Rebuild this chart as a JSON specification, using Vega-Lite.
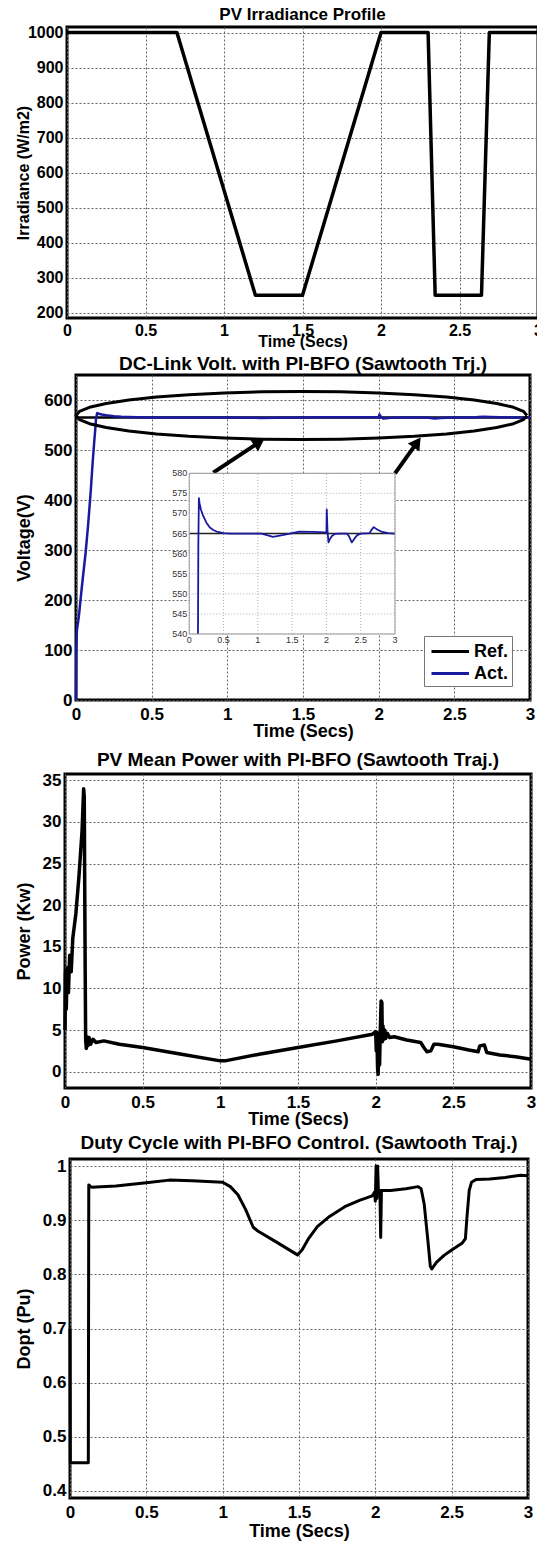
{
  "$schema": "https://vega.github.io/schema/vega-lite/v6.json",
  "background": "white",
  "padding": {"left": 6, "top": 4, "right": 0, "bottom": 0},
  "config": {
    "font": "Liberation Sans",
    "view": {"stroke": "black", "strokeWidth": 3},
    "axis": {"labelFont": "Liberation Sans", "labelFontWeight": "bold", "labelColor": "#000", "titleFont": "Liberation Sans", "titleFontWeight": "bold", "titleColor": "#000", "domain": false, "ticks": false, "tickSize": 0, "grid": true, "gridColor": "#666", "gridDash": [2, 2], "gridWidth": 1, "gridOpacity": 1, "labelFlush": false, "labelOverlap": false, "labelBound": false},
    "title": {"font": "Liberation Sans", "fontWeight": "bold", "color": "#000", "fontSize": 19},
    "line": {"strokeJoin": "round"}
  },
  "datasets": {
    "irr": [{"t":0,"g":1000},{"t":0.7,"g":1000},{"t":1.2,"g":250},{"t":1.5,"g":250},{"t":2.0,"g":1000},{"t":2.3,"g":1000},{"t":2.345,"g":250},{"t":2.64,"g":250},{"t":2.69,"g":1000},{"t":3,"g":1000}],
    "vref": [{"t":0,"v":565,"s":"Ref."},{"t":3,"v":565,"s":"Ref."}],
    "vact": [{"t":0,"v":0,"s":"Act."},{"t":0.002,"v":100,"s":"Act."},{"t":0.006,"v":140,"s":"Act."},{"t":0.018,"v":165,"s":"Act."},{"t":0.04,"v":230,"s":"Act."},{"t":0.063,"v":293,"s":"Act."},{"t":0.08,"v":350,"s":"Act."},{"t":0.098,"v":420,"s":"Act."},{"t":0.11,"v":475,"s":"Act."},{"t":0.12,"v":515,"s":"Act."},{"t":0.127,"v":540,"s":"Act."},{"t":0.132,"v":562,"s":"Act."},{"t":0.14,"v":573.8,"s":"Act."},{"t":0.15,"v":572.5,"s":"Act."},{"t":0.17,"v":571,"s":"Act."},{"t":0.2,"v":569.5,"s":"Act."},{"t":0.25,"v":567.7,"s":"Act."},{"t":0.3,"v":566.5,"s":"Act."},{"t":0.35,"v":565.9,"s":"Act."},{"t":0.4,"v":565.5,"s":"Act."},{"t":0.5,"v":565.1,"s":"Act."},{"t":0.6,"v":565,"s":"Act."},{"t":1.05,"v":565,"s":"Act."},{"t":1.12,"v":564.7,"s":"Act."},{"t":1.22,"v":564.2,"s":"Act."},{"t":1.32,"v":564.5,"s":"Act."},{"t":1.45,"v":564.9,"s":"Act."},{"t":1.52,"v":565.2,"s":"Act."},{"t":1.6,"v":565.5,"s":"Act."},{"t":1.8,"v":565.4,"s":"Act."},{"t":1.99,"v":565.3,"s":"Act."},{"t":2.0,"v":565.2,"s":"Act."},{"t":2.005,"v":571,"s":"Act."},{"t":2.015,"v":566,"s":"Act."},{"t":2.03,"v":562.8,"s":"Act."},{"t":2.05,"v":563.6,"s":"Act."},{"t":2.08,"v":564.4,"s":"Act."},{"t":2.12,"v":564.9,"s":"Act."},{"t":2.2,"v":565,"s":"Act."},{"t":2.3,"v":565,"s":"Act."},{"t":2.33,"v":564.3,"s":"Act."},{"t":2.37,"v":562.8,"s":"Act."},{"t":2.41,"v":563.8,"s":"Act."},{"t":2.45,"v":564.6,"s":"Act."},{"t":2.5,"v":565,"s":"Act."},{"t":2.63,"v":565.1,"s":"Act."},{"t":2.66,"v":566,"s":"Act."},{"t":2.69,"v":566.6,"s":"Act."},{"t":2.74,"v":566,"s":"Act."},{"t":2.8,"v":565.5,"s":"Act."},{"t":2.9,"v":565.1,"s":"Act."},{"t":3.0,"v":565,"s":"Act."}],
    "ell": [{"i":0,"x":2.98,"y":569},{"i":1,"x":2.957,"y":577.3},{"i":2,"x":2.891,"y":585.4},{"i":3,"x":2.78,"y":593},{"i":4,"x":2.631,"y":599.9},{"i":5,"x":2.448,"y":605.8},{"i":6,"x":2.235,"y":610.6},{"i":7,"x":2.0,"y":614.1},{"i":8,"x":1.749,"y":616.3},{"i":9,"x":1.49,"y":617},{"i":10,"x":1.231,"y":616.3},{"i":11,"x":0.98,"y":614.1},{"i":12,"x":0.745,"y":610.6},{"i":13,"x":0.532,"y":605.8},{"i":14,"x":0.349,"y":599.9},{"i":15,"x":0.2,"y":593},{"i":16,"x":0.089,"y":585.4},{"i":17,"x":0.023,"y":577.3},{"i":18,"x":0,"y":569},{"i":19,"x":0.023,"y":560.7},{"i":20,"x":0.089,"y":552.6},{"i":21,"x":0.2,"y":545},{"i":22,"x":0.349,"y":538.1},{"i":23,"x":0.532,"y":532.2},{"i":24,"x":0.745,"y":527.4},{"i":25,"x":0.98,"y":523.9},{"i":26,"x":1.231,"y":521.7},{"i":27,"x":1.49,"y":521},{"i":28,"x":1.749,"y":521.7},{"i":29,"x":2.0,"y":523.9},{"i":30,"x":2.235,"y":527.4},{"i":31,"x":2.448,"y":532.2},{"i":32,"x":2.631,"y":538.1},{"i":33,"x":2.78,"y":545},{"i":34,"x":2.891,"y":552.6},{"i":35,"x":2.957,"y":560.7},{"i":36,"x":2.98,"y":569}],
    "arr": [{"a":1,"x1":0.907,"y1":454.6,"hx":1.211,"hy":515.6},{"a":2,"x1":2.108,"y1":453.4,"hx":2.254,"hy":515.2}],
    "ixt": [{"t":0},{"t":0.5},{"t":1},{"t":1.5},{"t":2},{"t":2.5},{"t":3}],
    "iyt": [{"v":540},{"v":545},{"v":550},{"v":555},{"v":560},{"v":565},{"v":570},{"v":575},{"v":580}],
    "pw": [{"t":0,"p":5},{"t":0.003,"p":12},{"t":0.008,"p":7.5},{"t":0.015,"p":12.5},{"t":0.022,"p":9.5},{"t":0.03,"p":14},{"t":0.04,"p":12},{"t":0.05,"p":16},{"t":0.07,"p":19},{"t":0.09,"p":23.5},{"t":0.11,"p":29},{"t":0.12,"p":34},{"t":0.124,"p":33},{"t":0.127,"p":22},{"t":0.13,"p":12},{"t":0.133,"p":3.8},{"t":0.137,"p":2.8},{"t":0.142,"p":4.2},{"t":0.148,"p":3.1},{"t":0.155,"p":4.1},{"t":0.165,"p":3.3},{"t":0.18,"p":3.9},{"t":0.2,"p":3.5},{"t":0.25,"p":3.7},{"t":0.35,"p":3.3},{"t":0.5,"p":2.9},{"t":0.75,"p":2.1},{"t":1.0,"p":1.3},{"t":1.03,"p":1.3},{"t":1.25,"p":2.1},{"t":1.5,"p":2.9},{"t":1.75,"p":3.7},{"t":1.98,"p":4.5},{"t":2.0,"p":4.8},{"t":2.004,"p":2.5},{"t":2.008,"p":4.7},{"t":2.012,"p":0.5},{"t":2.016,"p":-0.3},{"t":2.02,"p":3.5},{"t":2.025,"p":0.8},{"t":2.03,"p":5},{"t":2.035,"p":8.5},{"t":2.04,"p":8.3},{"t":2.043,"p":3.6},{"t":2.047,"p":5.5},{"t":2.052,"p":3.9},{"t":2.058,"p":5},{"t":2.065,"p":4.0},{"t":2.075,"p":4.6},{"t":2.09,"p":4.1},{"t":2.12,"p":4.2},{"t":2.2,"p":3.8},{"t":2.29,"p":3.5},{"t":2.31,"p":2.9},{"t":2.33,"p":2.4},{"t":2.355,"p":2.5},{"t":2.375,"p":3.3},{"t":2.4,"p":3.3},{"t":2.5,"p":3.0},{"t":2.6,"p":2.6},{"t":2.66,"p":2.4},{"t":2.67,"p":3.1},{"t":2.7,"p":3.2},{"t":2.715,"p":2.3},{"t":2.8,"p":2.0},{"t":2.9,"p":1.8},{"t":3.0,"p":1.5}],
    "duty": [{"t":0,"d":0.7},{"t":0.002,"d":0.452},{"t":0.12,"d":0.452},{"t":0.123,"d":0.965},{"t":0.14,"d":0.961},{"t":0.3,"d":0.963},{"t":0.5,"d":0.969},{"t":0.65,"d":0.974},{"t":0.8,"d":0.973},{"t":1.0,"d":0.97},{"t":1.05,"d":0.962},{"t":1.1,"d":0.947},{"t":1.15,"d":0.92},{"t":1.2,"d":0.887},{"t":1.23,"d":0.88},{"t":1.35,"d":0.86},{"t":1.49,"d":0.836},{"t":1.52,"d":0.845},{"t":1.56,"d":0.865},{"t":1.62,"d":0.888},{"t":1.7,"d":0.907},{"t":1.8,"d":0.925},{"t":1.9,"d":0.937},{"t":1.98,"d":0.945},{"t":1.995,"d":0.952},{"t":2.0,"d":0.935},{"t":2.005,"d":1.0},{"t":2.01,"d":0.94},{"t":2.015,"d":1.0},{"t":2.02,"d":0.955},{"t":2.03,"d":0.955},{"t":2.035,"d":0.868},{"t":2.04,"d":0.955},{"t":2.1,"d":0.955},{"t":2.2,"d":0.958},{"t":2.28,"d":0.962},{"t":2.3,"d":0.958},{"t":2.32,"d":0.93},{"t":2.345,"d":0.86},{"t":2.36,"d":0.815},{"t":2.37,"d":0.81},{"t":2.4,"d":0.822},{"t":2.45,"d":0.835},{"t":2.5,"d":0.845},{"t":2.57,"d":0.858},{"t":2.59,"d":0.866},{"t":2.6,"d":0.905},{"t":2.615,"d":0.955},{"t":2.63,"d":0.97},{"t":2.66,"d":0.975},{"t":2.75,"d":0.976},{"t":2.85,"d":0.979},{"t":2.95,"d":0.983},{"t":3.0,"d":0.982}]
  },
  "spacing": 2,
  "resolve": {"legend": {"color": "independent"}},
  "vconcat": [
    {
      "spacing": 0,
      "hconcat": [
        {"width": 1.2, "height": 1, "view": {"stroke": null, "fill": "white"}, "data": {"values": [{}]}, "mark": {"type": "point", "opacity": 0}},
        {
          "width": 471, "height": 291,
          "title": {"text": "PV Irradiance Profile", "fontSize": 17, "offset": 1},
          "data": {"name": "irr"},
          "mark": {"type": "line", "color": "black", "strokeWidth": 3.5},
          "encoding": {
            "x": {"field": "t", "type": "quantitative", "scale": {"domain": [0, 3], "nice": false}, "axis": {"values": [0, 0.5, 1, 1.5, 2, 2.5, 3], "format": "~g", "labelFontSize": 16, "labelPadding": 4, "title": "Time (Secs)", "titleFontSize": 16, "titleY": 23, "titleBaseline": "middle"}},
            "y": {"field": "g", "type": "quantitative", "scale": {"domain": [185, 1016], "nice": false, "zero": false}, "axis": {"values": [200, 300, 400, 500, 600, 700, 800, 900, 1000], "format": "d", "labelFontSize": 16, "labelPadding": 4, "title": "Irradiance (W/m2)", "titleFontSize": 16, "titleX": -44, "titleBaseline": "middle"}}
          }
        }
      ]
    },
    {
      "spacing": 0,
      "resolve": {"legend": {"color": "independent"}},
      "hconcat": [
        {"width": 3.5, "height": 1, "view": {"stroke": null, "fill": "white"}, "data": {"values": [{}]}, "mark": {"type": "point", "opacity": 0}},
        {
          "width": 454, "height": 325,
          "title": {"text": "DC-Link Volt. with PI-BFO (Sawtooth Trj.)", "fontSize": 19, "offset": 1},
          "layer": [
            {
              "layer": [
                {
                  "data": {"name": "vref"},
                  "mark": {"type": "line", "strokeWidth": 2.5},
                  "encoding": {
                    "x": {"field": "t", "type": "quantitative", "scale": {"domain": [0, 3], "nice": false}, "axis": {"values": [0, 0.5, 1, 1.5, 2, 2.5, 3], "format": "~g", "labelFontSize": 17, "labelPadding": 6, "title": "Time (Secs)", "titleFontSize": 18, "titleY": 31.5, "titleBaseline": "middle"}},
                    "y": {"field": "v", "type": "quantitative", "scale": {"domain": [0, 650], "nice": false}, "axis": {"values": [0, 100, 200, 300, 400, 500, 600], "labelFontSize": 17, "labelPadding": 4, "title": "Voltage(V)", "titleFontSize": 18, "titleX": -51.5, "titleBaseline": "middle"}},
                    "color": {"field": "s", "type": "nominal", "scale": {"domain": ["Ref.", "Act."], "range": ["#000000", "#1a1aa0"]}, "legend": {"title": null, "orient": "none", "legendX": 348, "legendY": 261, "symbolType": "M-0.727,0H2.68", "symbolStrokeWidth": 3, "symbolSize": 484, "labelFont": "Liberation Sans", "labelFontWeight": "bold", "labelFontSize": 18, "labelColor": "#000", "fillColor": "white", "strokeColor": "#777", "padding": 3, "rowPadding": 0, "labelOffset": 22}}
                  }
                },
                {
                  "data": {"name": "vact"},
                  "mark": {"type": "line", "strokeWidth": 2.5},
                  "encoding": {
                    "x": {"field": "t", "type": "quantitative"},
                    "y": {"field": "v", "type": "quantitative"},
                    "color": {"field": "s", "type": "nominal"}
                  }
                },
                {
                  "data": {"name": "ell"},
                  "mark": {"type": "line", "color": "black", "strokeWidth": 3},
                  "encoding": {
                    "x": {"field": "x", "type": "quantitative"},
                    "y": {"field": "y", "type": "quantitative"},
                    "order": {"field": "i", "type": "quantitative"}
                  }
                },
                {
                  "data": {"name": "arr"},
                  "mark": {"type": "rule", "color": "black", "strokeWidth": 4},
                  "encoding": {
                    "x": {"field": "x1", "type": "quantitative"},
                    "y": {"field": "y1", "type": "quantitative"},
                    "x2": {"field": "hx"},
                    "y2": {"field": "hy"}
                  }
                },
                {
                  "data": {"name": "arr"},
                  "transform": [{"filter": "datum.a == 1"}],
                  "mark": {"type": "point", "shape": "triangle-up", "filled": true, "color": "black", "opacity": 1, "size": 200, "angle": 56.6},
                  "encoding": {
                    "x": {"field": "hx", "type": "quantitative"},
                    "y": {"field": "hy", "type": "quantitative"}
                  }
                },
                {
                  "data": {"name": "arr"},
                  "transform": [{"filter": "datum.a == 2"}],
                  "mark": {"type": "point", "shape": "triangle-up", "filled": true, "color": "black", "opacity": 1, "size": 200, "angle": 34.9},
                  "encoding": {
                    "x": {"field": "hx", "type": "quantitative"},
                    "y": {"field": "hy", "type": "quantitative"}
                  }
                }
              ]
            },
            {
              "layer": [
                {
                  "data": {"values": [{}]},
                  "mark": {"type": "rect", "fill": "white"},
                  "encoding": {
                    "x": {"datum": 0, "type": "quantitative", "scale": {"domain": [-1.652, 4.969], "nice": false, "zero": false}, "axis": null},
                    "x2": {"datum": 3},
                    "y": {"datum": 540, "type": "quantitative", "scale": {"domain": [523.57, 604.47], "nice": false, "zero": false}, "axis": null},
                    "y2": {"datum": 580}
                  }
                },
                {
                  "data": {"name": "ixt"},
                  "mark": {"type": "rule", "color": "#b0b0b0", "strokeDash": [1, 2], "strokeWidth": 1},
                  "encoding": {
                    "x": {"field": "t", "type": "quantitative"},
                    "y": {"datum": 540, "type": "quantitative"},
                    "y2": {"datum": 580}
                  }
                },
                {
                  "data": {"name": "iyt"},
                  "mark": {"type": "rule", "color": "#b0b0b0", "strokeDash": [1, 2], "strokeWidth": 1},
                  "encoding": {
                    "y": {"field": "v", "type": "quantitative"},
                    "x": {"datum": 0, "type": "quantitative"},
                    "x2": {"datum": 3}
                  }
                },
                {
                  "data": {"name": "vref"},
                  "mark": {"type": "line", "color": "#222222", "strokeWidth": 1.5},
                  "encoding": {
                    "x": {"field": "t", "type": "quantitative"},
                    "y": {"field": "v", "type": "quantitative"}
                  }
                },
                {
                  "data": {"name": "vact"},
                  "transform": [{"filter": "datum.v >= 540"}],
                  "mark": {"type": "line", "color": "#1a1aa0", "strokeWidth": 1.8},
                  "encoding": {
                    "x": {"field": "t", "type": "quantitative"},
                    "y": {"field": "v", "type": "quantitative"}
                  }
                },
                {
                  "data": {"values": [{}]},
                  "mark": {"type": "rect", "fill": null, "fillOpacity": 0, "stroke": "#999999", "strokeWidth": 1},
                  "encoding": {
                    "x": {"datum": 0, "type": "quantitative"},
                    "x2": {"datum": 3},
                    "y": {"datum": 540, "type": "quantitative"},
                    "y2": {"datum": 580}
                  }
                },
                {
                  "data": {"name": "ixt"},
                  "mark": {"type": "text", "fontSize": 9, "color": "#333333", "baseline": "top", "dy": 2, "font": "Liberation Sans"},
                  "encoding": {
                    "x": {"field": "t", "type": "quantitative"},
                    "y": {"datum": 540, "type": "quantitative"},
                    "text": {"field": "t", "type": "quantitative", "format": "~g"}
                  }
                },
                {
                  "data": {"name": "iyt"},
                  "mark": {"type": "text", "fontSize": 9, "color": "#333333", "align": "right", "dx": -2, "font": "Liberation Sans"},
                  "encoding": {
                    "y": {"field": "v", "type": "quantitative"},
                    "x": {"datum": 0, "type": "quantitative"},
                    "text": {"field": "v", "type": "quantitative"}
                  }
                }
              ]
            }
          ],
          "resolve": {"scale": {"x": "independent", "y": "independent"}}
        }
      ]
    },
    {
      "spacing": 0,
      "hconcat": [
        {"width": 3.5, "height": 1, "view": {"stroke": null, "fill": "white"}, "data": {"values": [{}]}, "mark": {"type": "point", "opacity": 0}},
        {
          "width": 466, "height": 314,
          "title": {"text": ["", "PV Mean Power with PI-BFO (Sawtooth Traj.)"], "fontSize": 19, "lineHeight": 5, "offset": 1},
          "data": {"name": "pw"},
          "mark": {"type": "line", "color": "black", "strokeWidth": 3.5},
          "encoding": {
            "x": {"field": "t", "type": "quantitative", "scale": {"domain": [0, 3], "nice": false}, "axis": {"values": [0, 0.5, 1, 1.5, 2, 2.5, 3], "format": "~g", "labelFontSize": 17, "labelPadding": 6, "title": "Time (Secs)", "titleFontSize": 18, "titleY": 31.5, "titleBaseline": "middle"}},
            "y": {"field": "p", "type": "quantitative", "scale": {"domain": [-1.96, 35.76], "nice": false, "zero": false}, "axis": {"values": [0, 5, 10, 15, 20, 25, 30, 35], "labelFontSize": 17, "labelPadding": 4, "title": "Power (Kw)", "titleFontSize": 18, "titleX": -40.5, "titleBaseline": "middle"}}
          }
        }
      ]
    },
    {
      "spacing": 0,
      "hconcat": [
        {"width": 4.5, "height": 1, "view": {"stroke": null, "fill": "white"}, "data": {"values": [{}]}, "mark": {"type": "point", "opacity": 0}},
        {
          "width": 458, "height": 339,
          "title": {"text": "Duty Cycle with PI-BFO Control. (Sawtooth Traj.)", "fontSize": 19, "offset": 4},
          "data": {"name": "duty"},
          "mark": {"type": "line", "color": "black", "strokeWidth": 3},
          "encoding": {
            "x": {"field": "t", "type": "quantitative", "scale": {"domain": [0, 3], "nice": false}, "axis": {"values": [0, 0.5, 1, 1.5, 2, 2.5, 3], "format": "~g", "labelFontSize": 17, "labelPadding": 6, "title": "Time (Secs)", "titleFontSize": 18, "titleY": 33.5, "titleBaseline": "middle"}},
            "y": {"field": "d", "type": "quantitative", "scale": {"domain": [0.387, 1.013], "nice": false, "zero": false}, "axis": {"values": [0.4, 0.5, 0.6, 0.7, 0.8, 0.9, 1], "format": "~g", "labelFontSize": 17, "labelPadding": 4, "title": "Dopt (Pu)", "titleFontSize": 18, "titleX": -45.5, "titleBaseline": "middle"}}
          }
        }
      ]
    }
  ]
}
